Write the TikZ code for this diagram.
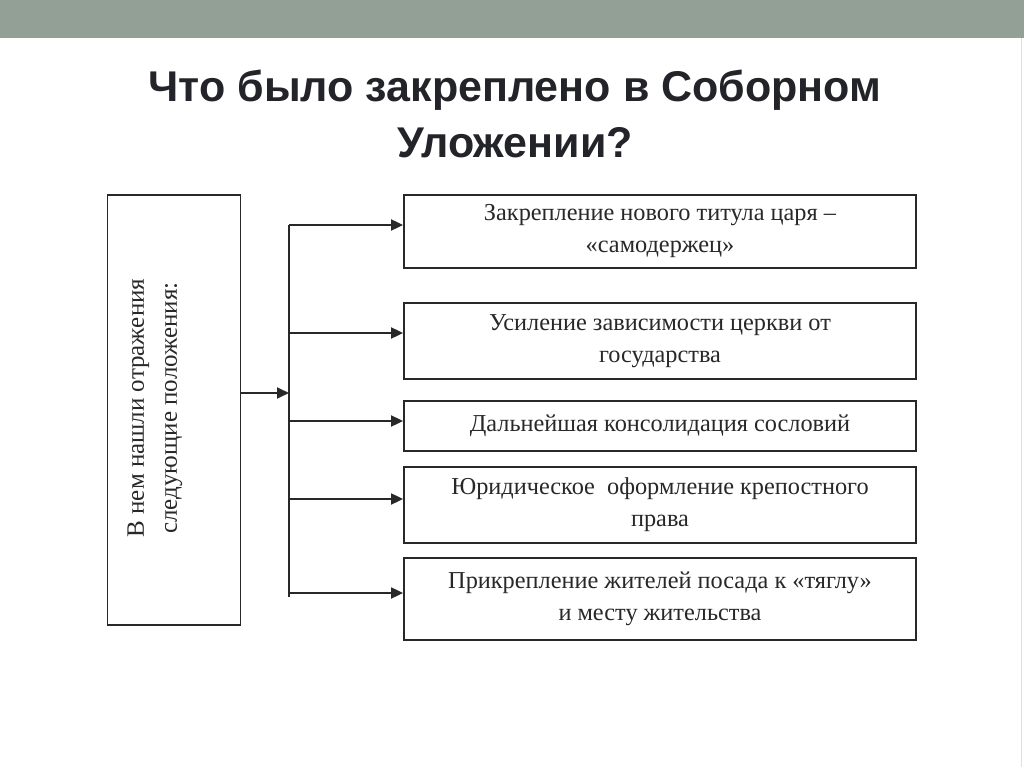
\documentclass[tikz,border=0pt]{standalone}
\usepackage{fontspec}
\setmainfont{Liberation Serif}
\newfontfamily\titlefont{Liberation Sans}
\usetikzlibrary{arrows.meta,positioning}
\definecolor{barcol}{RGB}{146,160,150}
\definecolor{titlecol}{RGB}{35,35,42}
\definecolor{linecol}{RGB}{40,40,40}
\tikzset{
  itembox/.style={draw=linecol,line width=1.8pt,minimum width=512,inner sep=0pt,
    align=center,font=\fontsize{24.3}{32}\selectfont,text=linecol},
  arr/.style={draw=linecol,line width=1.8pt,-{Triangle[length=12pt,width=11pt]}}
}
\begin{document}
\begin{tikzpicture}[x=1pt,y=-1pt]
  \useasboundingbox (0,0) rectangle (1024,767);
  \fill[white] (0,0) rectangle (1024,767);
  \fill[barcol] (0,0) rectangle (1024,38);
  \draw[gray!25] (1021,38) -- (1021,767);
  % title
  \node[anchor=base,font=\titlefont\bfseries\fontsize{43}{57}\selectfont,text=titlecol] (title1) at (515,102) {Что было закреплено в Соборном};
  \node[anchor=base,font=\titlefont\bfseries\fontsize{43}{57}\selectfont,text=titlecol] (title2) at (515,158) {Уложении?};
  % left box
  \node[draw=linecol,line width=1.8pt,minimum width=133,minimum height=430,inner sep=0pt] (src) at (174,410) {};
  \node[rotate=90,align=center,font=\fontsize{25}{33}\selectfont,text=linecol] (srctext) at (155,408) {В нем нашли отражения\\следующие положения:};
  % right boxes
  \node[itembox,minimum height=73] (b1) at (660,231.5) {Закрепление нового титула царя –\\«самодержец»};
  \node[itembox,minimum height=76] (b2) at (660,341) {Усиление зависимости церкви от\\государства};
  \node[itembox,minimum height=50] (b3) at (660,426) {Дальнейшая консолидация сословий};
  \node[itembox,minimum height=76] (b4) at (660,505) {Юридическое\ \ оформление крепостного\\права};
  \node[itembox,minimum height=82] (b5) at (660,599) {Прикрепление жителей посада к «тяглу»\\и месту жительства};
  % connectors
  \coordinate (t1) at (289,225);
  \coordinate (t2) at (289,333);
  \coordinate (t3) at (289,421);
  \coordinate (t4) at (289,499);
  \coordinate (t5) at (289,593);
  \coordinate (tend) at (289,597);
  \coordinate (tmid) at (289,393);
  \draw[linecol,line width=1.8pt] (t1) -- (tend);
  \draw[arr] (src.east |- tmid) -- (tmid);
  \foreach \i in {1,...,5}
    \draw[arr] (t\i) -- (t\i -| b\i.west);
\end{tikzpicture}
\end{document}
